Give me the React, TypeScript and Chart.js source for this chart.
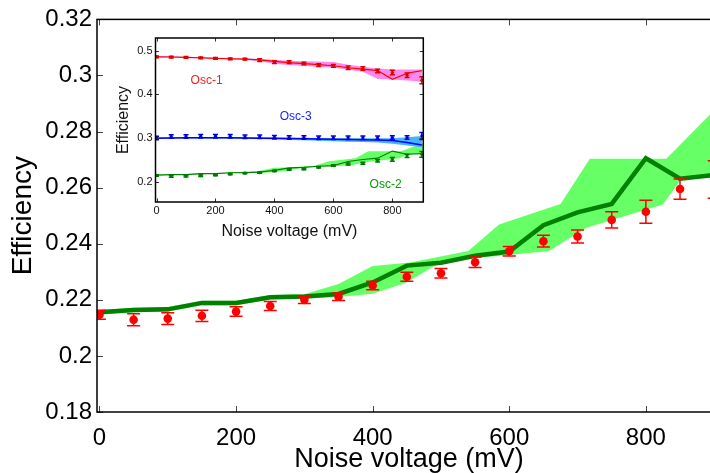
import React, { useEffect, useRef } from 'react';
import { Chart, registerables } from 'chart.js';

Chart.register(...registerables);

const FONT = "'Liberation Sans', Arial, Helvetica, sans-serif";

// ---------- shared x values (noise voltage, mV) ----------
const noiseVoltage = [0, 50, 100, 150, 200, 250, 300, 350, 400, 450, 500, 550, 600, 650, 700, 750, 800, 850, 900];

// ---------- main chart (Osc-2) ----------
const measuredEff = [0.2147, 0.2129, 0.2133, 0.2143, 0.2158, 0.2178, 0.22, 0.2211, 0.2251, 0.2282, 0.2295, 0.2334, 0.2373, 0.2409, 0.2426, 0.2485, 0.2514, 0.2595, 0.2629];
const measuredErr = [0.0016, 0.0021, 0.0021, 0.002, 0.0017, 0.0016, 0.0013, 0.0013, 0.0015, 0.0016, 0.0017, 0.0019, 0.0017, 0.0021, 0.0023, 0.0029, 0.0041, 0.0036, 0.0067];
const simulatedEff = [0.2156, 0.2164, 0.2166, 0.2189, 0.2189, 0.2209, 0.2212, 0.2221, 0.2262, 0.2322, 0.2332, 0.2357, 0.2372, 0.2466, 0.2512, 0.2542, 0.2705, 0.2632, 0.2645];

const bandUpperX = [0, 50, 100, 150, 200, 250, 300, 350, 400, 455, 540, 585, 675, 718, 830, 910];
const bandUpper = [0.2164, 0.2172, 0.2174, 0.2197, 0.2197, 0.2217, 0.222, 0.2256, 0.2321, 0.2333, 0.2374, 0.2469, 0.2542, 0.2703, 0.2703, 0.29];
const bandLowerX = [0, 50, 100, 150, 200, 250, 300, 350, 400, 450, 503, 600, 658, 713, 825, 850, 910];
const bandLower = [0.2148, 0.2156, 0.2158, 0.2181, 0.2181, 0.2201, 0.2204, 0.221, 0.2222, 0.2262, 0.2339, 0.236, 0.2374, 0.2457, 0.254, 0.2625, 0.2655];

const mainXTicks = [0, 200, 400, 600, 800];
const mainYTicks = [0.18, 0.2, 0.22, 0.24, 0.26, 0.28, 0.3, 0.32];

// ---------- inset: Osc-1 ----------
const osc1Points = [0.4861, 0.4855, 0.4845, 0.4838, 0.4822, 0.4815, 0.4808, 0.4785, 0.4739, 0.4739, 0.4708, 0.4669, 0.4654, 0.4607, 0.4593, 0.4538, 0.45, 0.4439, 0.4323];
const osc1Err = [0.002, 0.002, 0.002, 0.002, 0.002, 0.002, 0.002, 0.003, 0.003, 0.003, 0.003, 0.003, 0.003, 0.004, 0.004, 0.004, 0.005, 0.005, 0.008];
const osc1Line = [0.4861, 0.4855, 0.4845, 0.4838, 0.4822, 0.4815, 0.4808, 0.479, 0.4755, 0.4725, 0.4705, 0.468, 0.4655, 0.461, 0.4577, 0.4545, 0.4346, 0.4485, 0.4545];
const osc1Upper = [0.488, 0.487, 0.486, 0.485, 0.484, 0.483, 0.482, 0.481, 0.479, 0.477, 0.476, 0.475, 0.474, 0.468, 0.463, 0.459, 0.457, 0.457, 0.457];
const osc1Lower = [0.484, 0.484, 0.483, 0.482, 0.481, 0.48, 0.479, 0.476, 0.47, 0.467, 0.465, 0.463, 0.461, 0.457, 0.452, 0.435, 0.434, 0.432, 0.429];

// ---------- inset: Osc-3 ----------
const osc3Points = [0.3005, 0.304, 0.304, 0.3045, 0.3045, 0.3045, 0.303, 0.303, 0.302, 0.3015, 0.3015, 0.301, 0.301, 0.301, 0.301, 0.301, 0.3015, 0.3015, 0.305];
const osc3Err = [0.004, 0.004, 0.004, 0.004, 0.004, 0.004, 0.004, 0.004, 0.004, 0.004, 0.004, 0.004, 0.004, 0.004, 0.004, 0.004, 0.004, 0.004, 0.008];
const osc3Line = [0.3, 0.3005, 0.301, 0.301, 0.301, 0.301, 0.3005, 0.3, 0.2995, 0.299, 0.2985, 0.298, 0.2975, 0.297, 0.2965, 0.2955, 0.2945, 0.29, 0.2845];
const osc3Upper = [0.302, 0.302, 0.302, 0.302, 0.302, 0.302, 0.302, 0.302, 0.301, 0.301, 0.301, 0.3005, 0.3, 0.3, 0.3, 0.3, 0.3, 0.302, 0.305];
const osc3Lower = [0.298, 0.299, 0.299, 0.299, 0.299, 0.299, 0.298, 0.298, 0.297, 0.296, 0.295, 0.294, 0.293, 0.292, 0.291, 0.29, 0.287, 0.283, 0.279];

const insetXTicks = [0, 200, 400, 600, 800];
const insetYTicks = [0.2, 0.3, 0.4, 0.5];

const insetLabelTexts = ['Osc-1', 'Osc-3', 'Osc-2'];
const insetLabelAnchors = [
  { x: 170, y: 0.432 },
  { x: 472, y: 0.348 },
  { x: 777, y: 0.194 },
];
const insetLabelColors = ['#ff1a1a', '#1a1aff', '#00a000'];

// ---------- helpers ----------
const xy = (xs: number[], ys: number[]) => xs.map((x, i) => ({ x, y: ys[i] }));
const polygon = (xu: number[], yu: number[], xl: number[], yl: number[]) => [...xy(xu, yu), ...xy(xl, yl).reverse()];
const fmt = (v: any) => String(+Number(v).toFixed(2));

const framePlugin = {
  id: 'frame',
  beforeDatasetsDraw(chart: any, _a: any, opts: any) {
    if (!opts.fill) return;
    const a = chart.chartArea;
    const ctx = chart.ctx;
    ctx.save();
    ctx.fillStyle = opts.fill;
    ctx.fillRect(a.left, a.top, a.right - a.left, a.bottom - a.top);
    ctx.restore();
  },
  afterDatasetsDraw(chart: any, _a: any, opts: any) {
    const a = chart.chartArea;
    const ctx = chart.ctx;
    const L = opts.tickLength;
    ctx.save();
    ctx.strokeStyle = opts.tickColor;
    ctx.lineWidth = opts.tickWidth;
    ctx.beginPath();
    for (const t of chart.scales.x.ticks) {
      const px = Math.round(chart.scales.x.getPixelForValue(t.value)) + 0.5;
      ctx.moveTo(px, a.bottom);
      ctx.lineTo(px, a.bottom - L);
      ctx.moveTo(px, a.top);
      ctx.lineTo(px, a.top + L);
    }
    for (const t of chart.scales.y.ticks) {
      const py = Math.round(chart.scales.y.getPixelForValue(t.value)) + 0.5;
      ctx.moveTo(a.left, py);
      ctx.lineTo(a.left + L, py);
      ctx.moveTo(a.right, py);
      ctx.lineTo(a.right - L, py);
    }
    ctx.stroke();
    ctx.strokeStyle = opts.color;
    ctx.lineWidth = opts.width;
    ctx.strokeRect(a.left, a.top, a.right - a.left, a.bottom - a.top);
    ctx.restore();
  },
};

const errorBarPlugin = {
  id: 'errorBars',
  beforeDatasetDraw(chart: any, args: any) {
    const ds: any = chart.data.datasets[args.index];
    if (!ds.errors) return;
    const { ctx, chartArea: a, scales } = chart;
    const c = ds.errCap;
    ctx.save();
    ctx.beginPath();
    ctx.rect(a.left, a.top, a.right - a.left, a.bottom - a.top);
    ctx.clip();
    ctx.strokeStyle = ds.errColor;
    ctx.lineWidth = ds.errWidth;
    ds.data.forEach((p: any, i: number) => {
      const e = ds.errors[i];
      const x = scales.x.getPixelForValue(p.x);
      const y1 = scales.y.getPixelForValue(p.y + e);
      const y2 = scales.y.getPixelForValue(p.y - e);
      ctx.beginPath();
      ctx.moveTo(x, y1);
      ctx.lineTo(x, y2);
      ctx.moveTo(x - c, y1);
      ctx.lineTo(x + c, y1);
      ctx.moveTo(x - c, y2);
      ctx.lineTo(x + c, y2);
      ctx.stroke();
    });
    ctx.restore();
  },
};

const labelPlugin = {
  id: 'insetLabels',
  afterDatasetsDraw(chart: any, _a: any, opts: any) {
    if (!opts.texts) return;
    const ctx = chart.ctx;
    ctx.save();
    ctx.font = `${opts.size}px ${FONT}`;
    ctx.textAlign = 'center';
    ctx.textBaseline = 'middle';
    opts.texts.forEach((t: string, i: number) => {
      ctx.fillStyle = opts.colors[i];
      ctx.fillText(t, chart.scales.x.getPixelForValue(opts.anchors[i].x), chart.scales.y.getPixelForValue(opts.anchors[i].y));
    });
    ctx.restore();
  },
};

function mainConfig(): any {
  return {
    type: 'line',
    data: {
      datasets: [
        {
          data: xy(noiseVoltage, measuredEff),
          showLine: false,
          pointRadius: 4.3,
          pointBorderWidth: 0,
          pointBackgroundColor: '#ff0000',
          pointBorderColor: '#ff0000',
          errors: measuredErr,
          errColor: '#ff0000',
          errCap: 6.5,
          errWidth: 1.5,
        },
        {
          data: xy(noiseVoltage, simulatedEff),
          borderColor: '#008000',
          borderWidth: 4.5,
          pointRadius: 0,
          fill: false,
          tension: 0,
        },
        {
          data: polygon(bandUpperX, bandUpper, bandLowerX, bandLower),
          borderWidth: 0,
          borderColor: 'rgba(0,0,0,0)',
          backgroundColor: '#66ff66',
          pointRadius: 0,
          fill: 'shape',
          tension: 0,
        },
      ],
    },
    options: {
      animation: false,
      responsive: true,
      maintainAspectRatio: false,
      layout: { padding: { top: 17, right: 19, left: 0, bottom: 0 } },
      plugins: {
        legend: { display: false },
        tooltip: { enabled: false },
        frame: { color: '#000', width: 1.5, tickColor: '#444', tickWidth: 1, tickLength: 6, fill: null },
      },
      scales: {
        x: {
          type: 'linear',
          min: -3.6,
          max: 910,
          afterBuildTicks: (s: any) => { s.ticks = mainXTicks.map((v) => ({ value: v })); },
          afterFit: (s: any) => { s.height = 68; },
          grid: { display: false, drawTicks: false },
          border: { display: false },
          ticks: { font: { family: FONT, size: 24 }, color: '#000', padding: 12, maxRotation: 0, autoSkip: false },
          title: { display: true, text: 'Noise voltage (mV)', font: { family: FONT, size: 27 }, color: '#000', padding: { top: 0, bottom: 4 } },
        },
        y: {
          type: 'linear',
          min: 0.18,
          max: 0.32,
          afterBuildTicks: (s: any) => { s.ticks = mainYTicks.map((v) => ({ value: v })); },
          afterFit: (s: any) => { s.width = 97; },
          grid: { display: false, drawTicks: false },
          border: { display: false },
          ticks: { font: { family: FONT, size: 24 }, color: '#000', padding: 5, callback: fmt, autoSkip: false },
          title: { display: true, text: 'Efficiency', font: { family: FONT, size: 28 }, color: '#000', padding: { top: 6, bottom: 0 } },
        },
      },
    },
    plugins: [framePlugin, errorBarPlugin],
  };
}

function insetConfig(): any {
  const marker = (ys: number[], errs: number[], color: string, errColor: string) => ({
    data: xy(noiseVoltage, ys),
    showLine: false,
    pointRadius: 1.6,
    pointBorderWidth: 0,
    pointBackgroundColor: color,
    pointBorderColor: color,
    errors: errs,
    errColor,
    errCap: 2.5,
    errWidth: 1.5,
  });
  const line = (ys: number[], color: string, w: number) => ({
    data: xy(noiseVoltage, ys),
    borderColor: color,
    borderWidth: w,
    pointRadius: 0,
    fill: false,
    tension: 0,
  });
  const band = (data: any[], color: string) => ({
    data,
    borderWidth: 0,
    borderColor: 'rgba(0,0,0,0)',
    backgroundColor: color,
    pointRadius: 0,
    fill: 'shape',
    tension: 0,
  });
  return {
    type: 'line',
    data: {
      datasets: [
        marker(osc1Points, osc1Err, '#e00000', '#e00000'),
        marker(osc3Points, osc3Err, '#0000dd', '#0000dd'),
        marker(measuredEff, measuredErr, '#007a00', '#007a00'),
        line(osc1Line, '#ff0000', 1.2),
        line(osc3Line, '#0000ff', 1.5),
        line(simulatedEff, '#008000', 1.2),
        band(polygon(noiseVoltage, osc1Upper, noiseVoltage, osc1Lower), '#ff88ee'),
        band(polygon(noiseVoltage, osc3Upper, noiseVoltage, osc3Lower), '#44b4ff'),
        band(polygon(bandUpperX, bandUpper, bandLowerX, bandLower), '#66ff66'),
      ],
    },
    options: {
      animation: false,
      responsive: true,
      maintainAspectRatio: false,
      layout: { padding: { top: 10, right: 16.7, left: 0, bottom: 0 } },
      plugins: {
        legend: { display: false },
        tooltip: { enabled: false },
        frame: { color: '#000', width: 1.5, tickColor: '#333', tickWidth: 1, tickLength: 3.5, fill: '#ffffff' },
        insetLabels: { texts: insetLabelTexts, anchors: insetLabelAnchors, colors: insetLabelColors, size: 12 },
      },
      scales: {
        x: {
          type: 'linear',
          min: -3.4,
          max: 905,
          afterBuildTicks: (s: any) => { s.ticks = insetXTicks.map((v) => ({ value: v })); },
          afterFit: (s: any) => { s.height = 43; },
          grid: { display: false, drawTicks: false },
          border: { display: false },
          ticks: { font: { family: FONT, size: 11 }, color: '#111', padding: 2, maxRotation: 0, autoSkip: false },
          title: { display: true, text: 'Noise voltage (mV)', font: { family: FONT, size: 16 }, color: '#111', padding: { top: 0, bottom: 4 } },
        },
        y: {
          type: 'linear',
          min: 0.154,
          max: 0.529,
          afterBuildTicks: (s: any) => { s.ticks = insetYTicks.map((v) => ({ value: v })); },
          afterFit: (s: any) => { s.width = 55.5; },
          grid: { display: false, drawTicks: false },
          border: { display: false },
          ticks: { font: { family: FONT, size: 11 }, color: '#111', padding: 3, callback: fmt, autoSkip: false },
          title: { display: true, text: 'Efficiency', font: { family: FONT, size: 16 }, color: '#111', padding: { top: 14, bottom: 0 } },
        },
      },
    },
    plugins: [framePlugin, errorBarPlugin, labelPlugin],
  };
}

export default function App() {
  const mainRef = useRef<HTMLCanvasElement>(null);
  const insetRef = useRef<HTMLCanvasElement>(null);

  useEffect(() => {
    const main = new Chart(mainRef.current as HTMLCanvasElement, mainConfig());
    const inset = new Chart(insetRef.current as HTMLCanvasElement, insetConfig());
    return () => {
      main.destroy();
      inset.destroy();
    };
  }, []);

  return (
    <div style={{ position: 'fixed', left: 0, top: 0, width: 710, height: 473, overflow: 'hidden', background: '#fff' }}>
      <div style={{ position: 'absolute', left: 0, top: 0, width: 740, height: 480 }}>
        <canvas ref={mainRef} />
      </div>
      <div style={{ position: 'absolute', left: 100, top: 28, width: 340, height: 217 }}>
        <canvas ref={insetRef} />
      </div>
    </div>
  );
}
